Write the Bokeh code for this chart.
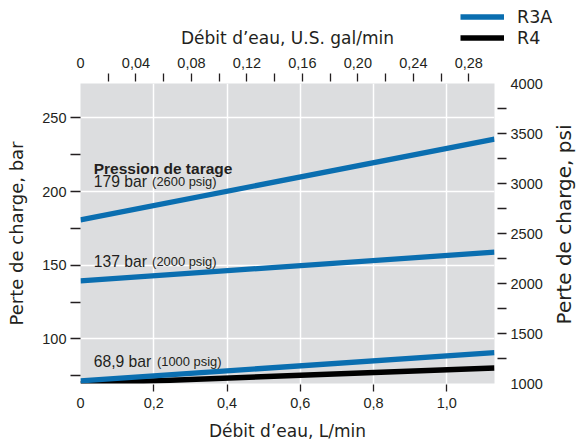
import math

from bokeh.core.properties import value
from bokeh.embed import file_html
from bokeh.layouts import column
from bokeh.models import (CustomJSTickFormatter, FixedTicker, Label, Legend,
                          LegendItem, LinearAxis, Range1d)
from bokeh.plotting import figure
from bokeh.resources import INLINE

LPM_PER_GPM = 3.78541

# Water flow (L/min) at both ends of every curve
flow_lpm = [0.0, 1.13]

# Pressure drop (bar) for each valve and set pressure
r3a_2600 = [180.8, 235.5]
r3a_2000 = [139.4, 158.8]
r3a_1000 = [71.5, 90.7]
r4_1000 = [69.6, 80.3]

# Set-pressure captions
set_bar = ["179 bar", "137 bar", "68,9 bar"]
set_psig = ["(2600 psig)", "(2000 psig)", "(1000 psig)"]

# Valve series
series = ["R3A", "R4"]

# Axis ticks
lpm_ticks = [0, 0.2, 0.4, 0.6, 0.8, 1.0]
lpm_marks = [0.2, 0.4, 0.6, 0.8, 1.0]
gpm_ticks = [0, 0.04, 0.08, 0.12, 0.16, 0.20, 0.24, 0.28]
gpm_marks = [0.02, 0.04, 0.06, 0.08, 0.10, 0.12, 0.14, 0.16, 0.18, 0.20,
             0.22, 0.24, 0.26, 0.28]
bar_ticks = [100, 150, 200, 250]
bar_marks = [75, 100, 125, 150, 175, 200, 225, 250]
psi_ticks = [1000, 1500, 2000, 2500, 3000, 3500, 4000]
psi_marks = [1250, 1500, 1750, 2000, 2250, 2500, 2750, 3000, 3250, 3500, 3750]

BLUE = "#0a6eb0"
INK = "#231f20"
TICK_FONT = "Liberation Sans"
TITLE_FONT = "DejaVu Sans"

W, H = 577, 444
X_MAX = 1.13

p = figure(width=W, height=H,
           x_range=Range1d(0, X_MAX), y_range=Range1d(69.7, 273.3),
           output_backend="svg", toolbar_location=None,
           min_border_left=80, min_border_right=83,
           min_border_top=83, min_border_bottom=61)
p.extra_x_ranges = {"gpm": Range1d(0, X_MAX / LPM_PER_GPM)}
p.extra_y_ranges = {"psi": Range1d(1000, 4000)}

p.background_fill_color = "#dcdddf"
p.border_fill_color = "white"
p.outline_line_color = None

p.xgrid.ticker = FixedTicker(ticks=lpm_marks)
p.ygrid.ticker = FixedTicker(ticks=bar_ticks)
for g in (p.xgrid, p.ygrid):
    g.grid_line_color = "white"
    g.grid_line_width = 1.5


def style_axis(ax, ticks, marks, tick_in, tick_out, standoff):
    # Labels come from the major ticks; the visible tick marks are the minor ones
    ax.ticker = FixedTicker(ticks=ticks, minor_ticks=marks)
    ax.axis_line_color = None
    ax.major_tick_line_color = None
    ax.major_tick_in = 0
    ax.major_tick_out = tick_out
    ax.minor_tick_in = tick_in
    ax.minor_tick_out = tick_out
    ax.minor_tick_line_color = INK
    ax.minor_tick_line_width = 1.3
    ax.major_label_standoff = standoff
    ax.major_label_text_font = TICK_FONT
    ax.major_label_text_font_size = "14.5px"
    ax.major_label_text_color = INK
    ax.axis_label_text_font = TITLE_FONT
    ax.axis_label_text_font_style = "normal"
    ax.axis_label_text_color = INK


comma = CustomJSTickFormatter(
    code="return tick == 0 ? '0' : tick.toFixed(1).replace('.', ',')")
comma2 = CustomJSTickFormatter(
    code="return tick == 0 ? '0' : tick.toFixed(2).replace('.', ',')")

bottom = p.xaxis[0]
style_axis(bottom, lpm_ticks, lpm_marks, -1, 8, 6)
bottom.formatter = comma
bottom.axis_label = "Débit d’eau, L/min"
bottom.axis_label_text_font_size = "17px"
bottom.axis_label_standoff = 10

left = p.yaxis[0]
style_axis(left, bar_ticks, bar_marks, 0, 10, 4)
left.axis_label = "Perte de charge, bar"
left.axis_label_text_font_size = "18px"
left.axis_label_standoff = 12

top = LinearAxis(x_range_name="gpm")
style_axis(top, gpm_ticks, gpm_marks, -2, 10, 6)
top.formatter = comma2
top.axis_label = "Débit d’eau, U.S. gal/min"
top.axis_label_text_font_size = "17px"
top.axis_label_standoff = 7
p.add_layout(top, "above")

right = LinearAxis(y_range_name="psi")
style_axis(right, psi_ticks, psi_marks, -3, 12, 4)
p.add_layout(right, "right")

# Curves
p.line(flow_lpm, r4_1000, line_color="black", line_width=5.5)
p.line(flow_lpm, r3a_2600, line_color=BLUE, line_width=5.3)
p.line(flow_lpm, r3a_2000, line_color=BLUE, line_width=5.3)
p.line(flow_lpm, r3a_1000, line_color=BLUE, line_width=5.3)

# Set-pressure captions
note_x = 0.036
note_y = [206.8, 152.5, 84.8]
paren_dx = [58.4, 58.4, 63.3]
p.text(x=[note_x], y=[215.8], text=["Pression de tarage"],
       text_font=value(TICK_FONT), text_font_style="bold",
       text_font_size="15.5px", text_color=INK, text_baseline="alphabetic")
p.text(x=[note_x] * 3, y=note_y, text=set_bar,
       text_font=value(TICK_FONT), text_font_size="15.7px",
       text_color=INK, text_baseline="alphabetic")
p.text(x=[note_x] * 3, y=note_y, text=set_psig, x_offset=paren_dx,
       text_font=value(TICK_FONT), text_font_size="12.9px",
       text_color=INK, text_baseline="alphabetic")

# Transparent full-page overlay carrying the key and the psi-axis title,
# in page pixels measured from the bottom-left corner
key = figure(width=W, height=H,
             x_range=Range1d(0, W), y_range=Range1d(0, H),
             output_backend="svg", toolbar_location=None,
             x_axis_location=None, y_axis_location=None,
             min_border=0, outline_line_color=None)
key.background_fill_alpha = 0
key.border_fill_alpha = 0
key.xgrid.visible = False
key.ygrid.visible = False
# Key swatches: the renderers sit outside the overlay's view, only their legend glyphs show
swatch_r3a = key.line([-20, -10], [-20, -10], line_color=BLUE, line_width=5.3)
swatch_r4 = key.line([-20, -10], [-20, -10], line_color="black", line_width=5.5)
key.add_layout(Legend(items=[LegendItem(label=series[0], renderers=[swatch_r3a]),
                             LegendItem(label=series[1], renderers=[swatch_r4])],
                      location=(460, H - 48), orientation="vertical",
                      glyph_width=44, glyph_height=21, label_height=21,
                      label_standoff=13, spacing=0, padding=0, margin=0,
                      background_fill_alpha=0, border_line_alpha=0,
                      label_text_font=TITLE_FONT, label_text_font_size="17.5px",
                      label_text_color=INK))
key.add_layout(Label(x=563, y=H - 224, text="Perte de charge, psi",
                     angle=math.pi / 2, text_align="center",
                     text_baseline="alphabetic", text_font=TITLE_FONT,
                     text_font_size="20px", text_color=INK))
key.margin = (-H, 0, 0, 0)

# Keep the overlay's frame independent of the chart's frame
for fig in (p, key):
    if "frame_align" in fig.properties():
        fig.frame_align = False

page = column(p, key, spacing=0)

open("out.html", "w").write(file_html(page, INLINE))
